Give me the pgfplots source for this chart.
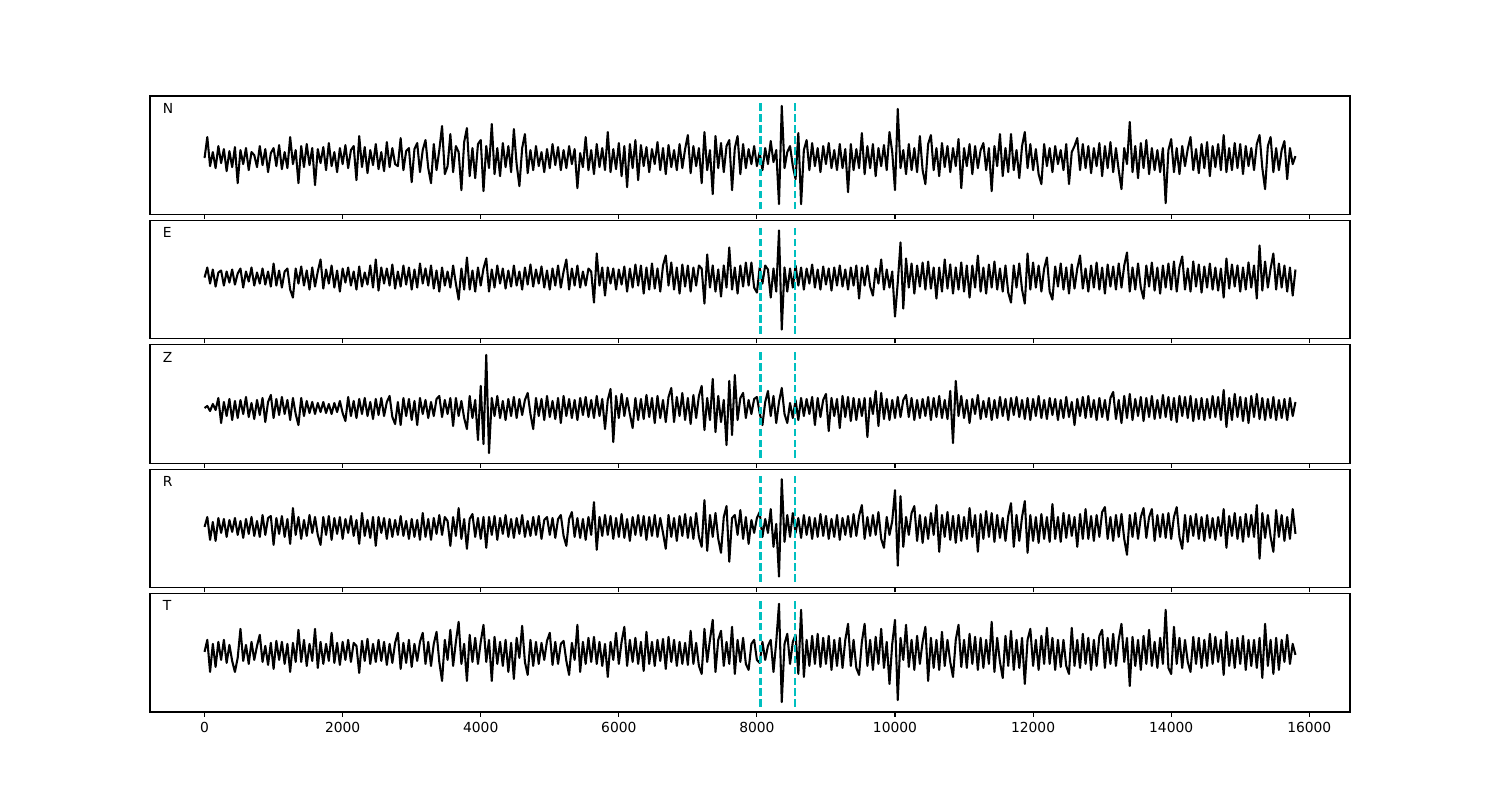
\documentclass[border=0pt]{standalone}
\usepackage{pgfplots}
\pgfplotsset{compat=1.18}
\usepackage{pgfplotstable}
\usepackage{fontspec}
\setmainfont{DejaVu Sans}
\definecolor{mplc}{rgb}{0,0.75,0.75}
\pgfplotsset{
 seis/.style={
  width=12in, height=1.182in, scale only axis,
  anchor=south west,
  xmin=-790, xmax=16590,
  xtick={0,2000,...,16000},
  xtick pos=left, tick align=outside,
  ytick=\empty,
  major tick length=3.5pt,
  every tick/.style={black, line width=0.8pt},
  axis line style={line width=0.8pt},
  tick label style={font=\fontsize{10}{12}\selectfont},
  /pgf/number format/assume math mode=true,
  /pgf/number format/1000 sep={},
  scaled x ticks=false,
 },
 trace/.style={black, line width=1.5pt, line join=round},
 vl/.style={mplc, line width=2pt, dash pattern=on 5.5pt off 2.4pt},
}
\tikzset{lab/.style={anchor=base west, inner sep=0pt, font=\fontsize{10}{12}\selectfont}}
% samples every 40 time units; offsets from the trace baseline
% N component
\pgfplotstableread[row sep=\\]{y\\
0\\ 21\\ -8\\ 6\\ -10\\ 12\\ -5\\ 9\\ -13\\ 7\\
-9\\ 11\\ -25\\ 8\\ -6\\ 10\\ -12\\ 6\\ 3\\ -9\\
12\\ -7\\ 9\\ -14\\ 5\\ 10\\ -8\\ 13\\ -11\\ 6\\
-10\\ 21\\ -6\\ 8\\ -25\\ 12\\ -9\\ 14\\ -7\\ 10\\
-27\\ 9\\ -5\\ 11\\ -12\\ 15\\ -8\\ 6\\ -14\\ 10\\
-6\\ 13\\ -10\\ 8\\ 12\\ -22\\ 22\\ -9\\ 11\\ -15\\
8\\ -7\\ 14\\ -11\\ 6\\ -13\\ 16\\ -9\\ 10\\ -6\\
-8\\ 20\\ -12\\ 7\\ 10\\ -24\\ 9\\ 15\\ -14\\ 8\\
18\\ -10\\ -25\\ 14\\ -12\\ 8\\ 32\\ -16\\ -8\\ 24\\
-14\\ 12\\ 6\\ -32\\ 16\\ 30\\ -18\\ 10\\ -20\\ 14\\
18\\ -33\\ 12\\ -10\\ 34\\ -16\\ 10\\ -18\\ 15\\ -9\\
12\\ -14\\ 29\\ -6\\ -28\\ 10\\ 24\\ -15\\ 8\\ -12\\
12\\ -8\\ 6\\ -14\\ 9\\ -10\\ 14\\ -7\\ 11\\ -12\\
8\\ -10\\ 12\\ -6\\ 9\\ -30\\ 5\\ -9\\ 21\\ -12\\
8\\ -16\\ 14\\ -9\\ 10\\ -12\\ 26\\ -14\\ 9\\ -11\\
15\\ -18\\ 12\\ -29\\ 14\\ -10\\ 18\\ -22\\ 13\\ -8\\
11\\ -14\\ 9\\ -6\\ 16\\ -12\\ 10\\ -16\\ 13\\ -9\\
8\\ -12\\ 14\\ -10\\ 9\\ 23\\ -15\\ 12\\ -8\\ 10\\
-25\\ 26\\ -12\\ 8\\ -36\\ 22\\ -10\\ 15\\ -14\\ 12\\
18\\ -32\\ 10\\ 22\\ -16\\ 14\\ -10\\ 9\\ -6\\ 12\\
-8\\ 6\\ -12\\ 10\\ -6\\ 17\\ -4\\ 8\\ -46\\ 52\\
-10\\ 6\\ 12\\ -8\\ -21\\ 25\\ -46\\ 8\\ 18\\ -12\\
15\\ -8\\ 10\\ -14\\ 12\\ -6\\ 15\\ -10\\ 8\\ -12\\
14\\ -10\\ 9\\ -34\\ 14\\ -12\\ 9\\ -10\\ 25\\ -16\\
12\\ -10\\ 14\\ -18\\ 10\\ -8\\ 13\\ -12\\ 26\\ 6\\
-32\\ 49\\ -10\\ 8\\ -16\\ 14\\ -12\\ 10\\ -14\\ 22\\
-12\\ -26\\ 14\\ 23\\ -12\\ 10\\ -18\\ 15\\ -9\\ 12\\
-14\\ 10\\ -8\\ 19\\ -30\\ 10\\ -8\\ 14\\ -16\\ 12\\
-10\\ 8\\ 15\\ -12\\ 10\\ -33\\ 12\\ -8\\ 24\\ -18\\
10\\ -14\\ 24\\ -12\\ 8\\ -20\\ 12\\ 26\\ -10\\ 14\\
-12\\ 9\\ -16\\ -26\\ 14\\ -8\\ 10\\ -14\\ 12\\ -6\\
8\\ -12\\ 14\\ -26\\ 6\\ 12\\ 20\\ -12\\ 14\\ -10\\
12\\ -15\\ 10\\ -8\\ 15\\ -18\\ 12\\ -10\\ 16\\ -14\\
10\\ -12\\ -31\\ 10\\ -6\\ 36\\ -14\\ 12\\ -20\\ 15\\
-10\\ 18\\ -16\\ 10\\ -12\\ 8\\ -14\\ 10\\ -45\\ 8\\
19\\ -14\\ 10\\ -16\\ 12\\ -8\\ 9\\ 21\\ -12\\ 9\\
-15\\ 14\\ -10\\ 16\\ -18\\ 12\\ -9\\ 14\\ -12\\ 23\\
-14\\ 10\\ -12\\ 15\\ -10\\ 14\\ -16\\ 12\\ -8\\ 10\\
-12\\ 14\\ 23\\ -10\\ -31\\ 12\\ 21\\ -14\\ 10\\ -12\\
8\\ 17\\ -21\\ 10\\ -6\\ 2\\
}\tN
% E component
\pgfplotstableread[row sep=\\]{y\\
0\\ 10\\ -6\\ 8\\ -9\\ 5\\ 7\\ -8\\ 6\\ -5\\
8\\ -7\\ 4\\ 9\\ -10\\ 6\\ -4\\ 10\\ -8\\ 5\\
-6\\ 9\\ -7\\ 6\\ -9\\ 14\\ -8\\ 7\\ -10\\ 6\\
9\\ -12\\ -20\\ 9\\ -6\\ 11\\ -8\\ 7\\ -12\\ 10\\
-9\\ 6\\ 18\\ -11\\ 8\\ -6\\ 12\\ -10\\ 7\\ -14\\
9\\ -5\\ 10\\ -8\\ 6\\ -12\\ 11\\ -9\\ 5\\ -7\\
12\\ -10\\ 18\\ -13\\ 10\\ -6\\ 9\\ -8\\ 13\\ -11\\
6\\ -9\\ 12\\ -7\\ 10\\ -12\\ 8\\ -10\\ 14\\ -6\\
9\\ -8\\ 12\\ -11\\ 7\\ -14\\ 10\\ -8\\ 6\\ -10\\
12\\ -6\\ -22\\ 9\\ -12\\ 20\\ -12\\ 7\\ -14\\ 10\\
-8\\ 9\\ 19\\ -14\\ 8\\ -10\\ 12\\ -6\\ 9\\ -11\\
7\\ -9\\ 12\\ -8\\ 6\\ -12\\ 10\\ -7\\ 13\\ -9\\
8\\ -6\\ 11\\ -10\\ 7\\ -12\\ 9\\ -8\\ 12\\ -10\\
6\\ 18\\ -12\\ 9\\ -8\\ 12\\ -10\\ 6\\ -8\\ 9\\
6\\ -25\\ 24\\ -8\\ 10\\ -18\\ 10\\ -6\\ 9\\ -12\\
8\\ -7\\ 11\\ -14\\ 9\\ -10\\ 13\\ -8\\ 12\\ -16\\
10\\ -12\\ 14\\ -11\\ 9\\ -14\\ 12\\ 22\\ -8\\ 15\\
-12\\ 10\\ -16\\ 13\\ -9\\ 12\\ -14\\ 10\\ -8\\ 12\\
9\\ -26\\ 23\\ -10\\ 12\\ -14\\ 8\\ -19\\ 12\\ -10\\
30\\ -12\\ 10\\ -16\\ 12\\ -9\\ 15\\ -8\\ 15\\ -10\\
-15\\ 10\\ -6\\ 12\\ 8\\ -20\\ 9\\ -14\\ 47\\ -52\\
10\\ -14\\ 9\\ -10\\ 12\\ -8\\ 10\\ -12\\ 9\\ -6\\
13\\ -10\\ 8\\ -12\\ 11\\ -7\\ 9\\ -13\\ 10\\ -8\\
12\\ -9\\ 8\\ -12\\ 10\\ -8\\ 12\\ -21\\ 10\\ -8\\
12\\ -9\\ -18\\ 9\\ -6\\ 18\\ -12\\ 8\\ -10\\ 6\\
-39\\ -5\\ 35\\ -31\\ 19\\ -10\\ 14\\ -16\\ 12\\ -9\\
15\\ -12\\ 16\\ -11\\ 10\\ -21\\ 10\\ -14\\ 18\\ -11\\
13\\ -16\\ 10\\ -12\\ 15\\ -14\\ 12\\ -20\\ 12\\ -10\\
22\\ -14\\ 10\\ -16\\ 13\\ -10\\ 16\\ -12\\ 9\\ -14\\
12\\ -15\\ -25\\ 12\\ -10\\ 14\\ -12\\ -26\\ 24\\ -12\\
15\\ -10\\ 12\\ -14\\ 9\\ 20\\ -14\\ -22\\ 11\\ -9\\
14\\ -12\\ 10\\ -16\\ 13\\ -11\\ 9\\ 22\\ -11\\ 9\\
-14\\ 12\\ -10\\ 15\\ -12\\ 10\\ -16\\ 13\\ -9\\ 11\\
-12\\ 14\\ -10\\ 12\\ 25\\ -14\\ 10\\ -12\\ 14\\ -10\\
-21\\ 12\\ -9\\ 15\\ -13\\ 10\\ -16\\ 12\\ -10\\ 14\\
-12\\ 16\\ -14\\ 10\\ 21\\ -12\\ 9\\ -14\\ 16\\ -9\\
13\\ -15\\ 11\\ -10\\ 14\\ -12\\ 10\\ -13\\ 9\\ -20\\
19\\ -11\\ 13\\ -9\\ 12\\ -14\\ 10\\ -12\\ 15\\ -10\\
12\\ -21\\ 32\\ -13\\ 16\\ -10\\ 9\\ 24\\ -12\\ 14\\
-10\\ 12\\ -14\\ 10\\ -18\\ 8\\
}\tE
% Z component
\pgfplotstableread[row sep=\\]{y\\
0\\ 2\\ -3\\ 4\\ -2\\ 10\\ -15\\ 6\\ -8\\ 9\\
-12\\ 7\\ -10\\ 8\\ -6\\ 11\\ -9\\ 5\\ -11\\ 8\\
-7\\ 10\\ -14\\ 6\\ 13\\ -10\\ 9\\ -7\\ 11\\ -6\\
8\\ -12\\ 10\\ -6\\ -17\\ 10\\ -8\\ 7\\ -5\\ 6\\
-6\\ 5\\ -4\\ 6\\ -5\\ 4\\ -6\\ 5\\ -4\\ 7\\
-5\\ -13\\ 11\\ -8\\ 7\\ -10\\ 9\\ -6\\ 10\\ -8\\
6\\ -11\\ 9\\ -7\\ 10\\ -8\\ 6\\ 12\\ -9\\ -16\\
6\\ -17\\ 10\\ -8\\ 9\\ -12\\ 7\\ -17\\ 10\\ -6\\
8\\ -10\\ 6\\ -8\\ 9\\ 12\\ -9\\ 8\\ -6\\ 10\\
-18\\ 10\\ -8\\ 7\\ -10\\ -21\\ 12\\ -10\\ 8\\ -32\\
22\\ -36\\ 53\\ -45\\ 10\\ -8\\ 12\\ -10\\ 7\\ -12\\
9\\ -8\\ 11\\ -10\\ 9\\ -7\\ 8\\ 15\\ -6\\ -21\\
10\\ -8\\ 9\\ -12\\ 12\\ -9\\ 7\\ -11\\ 10\\ -15\\
12\\ -8\\ 9\\ -10\\ 8\\ -12\\ 10\\ -7\\ 11\\ -9\\
8\\ -10\\ 12\\ -8\\ 9\\ -21\\ 8\\ 19\\ -34\\ 12\\
-10\\ 14\\ -8\\ 10\\ -6\\ -20\\ 10\\ -12\\ 9\\ -11\\
13\\ -9\\ 10\\ -15\\ 12\\ -10\\ 8\\ -14\\ 11\\ 20\\
-14\\ 11\\ -8\\ 15\\ -12\\ 10\\ -16\\ 13\\ -10\\ 12\\
22\\ -22\\ 10\\ -12\\ 29\\ -24\\ 12\\ -14\\ 8\\ -37\\
27\\ -27\\ 33\\ -12\\ 10\\ 15\\ -10\\ 8\\ -6\\ 9\\
11\\ -5\\ -17\\ 6\\ 17\\ -8\\ 12\\ -15\\ 6\\ 20\\
-6\\ -15\\ 5\\ -10\\ 8\\ -12\\ 10\\ -8\\ 9\\ -6\\
11\\ -17\\ 10\\ -9\\ 8\\ 14\\ -23\\ 10\\ -8\\ 9\\
-20\\ 12\\ -9\\ 11\\ -13\\ 10\\ -12\\ 9\\ -8\\ 10\\
-29\\ 10\\ -6\\ 17\\ -18\\ 15\\ -11\\ 9\\ -12\\ 8\\
-10\\ 11\\ -9\\ 8\\ 13\\ -9\\ 10\\ -12\\ 8\\ -10\\
9\\ -8\\ 11\\ -12\\ 10\\ -9\\ 12\\ -10\\ 8\\ -11\\
17\\ -35\\ 27\\ -8\\ 12\\ -10\\ 8\\ -15\\ 9\\ -6\\
13\\ -11\\ 7\\ -9\\ 10\\ -12\\ 8\\ -10\\ 11\\ -8\\
9\\ -12\\ 10\\ -7\\ 11\\ -9\\ 8\\ -11\\ 10\\ -12\\
9\\ -8\\ 12\\ -10\\ 8\\ -11\\ 10\\ -7\\ 9\\ -12\\
8\\ -10\\ 11\\ -9\\ 6\\ -17\\ 9\\ -8\\ 11\\ -10\\
12\\ -9\\ 8\\ -12\\ 10\\ -9\\ 8\\ -12\\ 10\\ 16\\
-11\\ 8\\ -15\\ 12\\ -10\\ 14\\ -12\\ 9\\ -8\\ 11\\
-13\\ 10\\ -9\\ 12\\ -11\\ 8\\ -10\\ 13\\ -9\\ 11\\
-12\\ 10\\ -14\\ 12\\ -8\\ 11\\ -10\\ 12\\ -13\\ 9\\
-11\\ 10\\ -12\\ 9\\ -10\\ 12\\ -9\\ 11\\ -12\\ 18\\
-19\\ 10\\ -12\\ 14\\ -9\\ 11\\ -13\\ 10\\ -15\\ 12\\
-9\\ 14\\ -11\\ 10\\ -12\\ 9\\ -10\\ 11\\ -12\\ 8\\
-10\\ 9\\ -12\\ 10\\ -8\\ 6\\
}\tZ
% R component
\pgfplotstableread[row sep=\\]{y\\
0\\ 10\\ -13\\ 5\\ -14\\ 9\\ -6\\ 8\\ -10\\ 7\\
-5\\ 9\\ -8\\ 6\\ -11\\ 8\\ -7\\ 10\\ -9\\ 6\\
-10\\ 12\\ -8\\ 9\\ 11\\ -18\\ 9\\ -7\\ 11\\ -10\\
8\\ -17\\ 19\\ -8\\ 10\\ -12\\ 7\\ -9\\ 12\\ -6\\
10\\ -8\\ -18\\ 10\\ -8\\ 11\\ -13\\ 9\\ -7\\ 10\\
-12\\ 8\\ -6\\ 11\\ -9\\ 7\\ -17\\ 14\\ -9\\ 7\\
-11\\ 10\\ -19\\ 10\\ -6\\ 9\\ -12\\ 8\\ -10\\ 7\\
-8\\ 11\\ -9\\ 6\\ -12\\ 8\\ -10\\ 7\\ -13\\ 14\\
-10\\ 8\\ -13\\ 9\\ -7\\ 12\\ -8\\ 10\\ 6\\ -19\\
10\\ -9\\ 19\\ -12\\ 8\\ -22\\ 8\\ 13\\ -10\\ 9\\
-12\\ 10\\ -21\\ 10\\ -8\\ 11\\ -13\\ 9\\ -7\\ 12\\
-10\\ 8\\ -11\\ 9\\ -7\\ 12\\ -10\\ 6\\ -9\\ 10\\
-8\\ 11\\ -12\\ 7\\ 10\\ -8\\ 9\\ -11\\ 8\\ 12\\
-9\\ -19\\ 8\\ 15\\ -10\\ 9\\ -11\\ 8\\ -13\\ 10\\
-8\\ 25\\ -23\\ 10\\ -9\\ 12\\ -8\\ 11\\ -12\\ 9\\
-10\\ 13\\ -11\\ 8\\ -14\\ 10\\ -8\\ 12\\ -9\\ 11\\
-13\\ 10\\ -9\\ 12\\ -10\\ 9\\ -6\\ -22\\ 12\\ -10\\
9\\ -14\\ 11\\ -9\\ 13\\ -11\\ 10\\ -12\\ 14\\ -10\\
-20\\ 27\\ -24\\ 12\\ -10\\ 14\\ -12\\ -26\\ 10\\ 21\\
-35\\ 9\\ 12\\ -8\\ 17\\ -12\\ 10\\ -17\\ 7\\ -6\\
9\\ 15\\ -10\\ 8\\ -6\\ 18\\ -20\\ 3\\ -50\\ 48\\
-15\\ 12\\ -10\\ 14\\ -6\\ 9\\ -11\\ 12\\ -8\\ 10\\
-12\\ 9\\ -10\\ 13\\ -9\\ 11\\ -12\\ 8\\ -10\\ 12\\
-13\\ 9\\ -8\\ 11\\ -10\\ 13\\ -9\\ 11\\ 22\\ -12\\
10\\ -9\\ 12\\ -8\\ 15\\ -12\\ -21\\ 10\\ -8\\ 6\\
37\\ -39\\ 31\\ -20\\ 10\\ -8\\ 14\\ 21\\ -14\\ 12\\
-16\\ 10\\ -12\\ 14\\ -8\\ 22\\ -25\\ 12\\ -10\\ 15\\
-13\\ 11\\ -16\\ 12\\ -14\\ 10\\ -12\\ 19\\ -10\\ 12\\
-25\\ 13\\ -12\\ 16\\ -10\\ 14\\ -15\\ 12\\ -11\\ 9\\
-14\\ 11\\ 24\\ -20\\ 12\\ -14\\ 10\\ 26\\ -26\\ 12\\
-14\\ 10\\ -16\\ 13\\ -12\\ 10\\ -15\\ 23\\ -12\\ 10\\
-15\\ 14\\ -11\\ 12\\ -9\\ 10\\ -20\\ 13\\ -12\\ 18\\
-12\\ 11\\ -14\\ 12\\ -10\\ 15\\ 20\\ -12\\ 10\\ -14\\
12\\ -10\\ 13\\ -12\\ -28\\ 12\\ -10\\ 14\\ -12\\ 10\\
19\\ -11\\ 10\\ 18\\ -14\\ 12\\ -10\\ 13\\ -11\\ 14\\
-12\\ 10\\ 20\\ -10\\ -22\\ 12\\ -15\\ 11\\ -9\\ 13\\
-12\\ 10\\ -14\\ 12\\ -11\\ 9\\ -13\\ 10\\ -9\\ 18\\
-21\\ 11\\ -9\\ 14\\ -12\\ 10\\ -15\\ 13\\ -10\\ 12\\
-10\\ 22\\ -32\\ 14\\ -11\\ 12\\ -10\\ -25\\ 17\\ -10\\
12\\ -14\\ 10\\ -12\\ 18\\ -7\\
}\tR
% T component
\pgfplotstableread[row sep=\\]{y\\
0\\ 12\\ -20\\ 8\\ -15\\ 10\\ -8\\ 12\\ -11\\ 7\\
-9\\ -20\\ -6\\ 23\\ -9\\ 7\\ -12\\ 10\\ -8\\ 6\\
17\\ -10\\ 6\\ -13\\ 9\\ -17\\ 11\\ -8\\ 10\\ -12\\
8\\ -20\\ 9\\ -10\\ 22\\ -10\\ 12\\ -14\\ 8\\ -9\\
23\\ -16\\ 10\\ -12\\ 8\\ -9\\ 19\\ -11\\ 9\\ -13\\
10\\ -8\\ 12\\ -10\\ 9\\ 6\\ -21\\ 11\\ -9\\ 13\\
-12\\ 8\\ -10\\ 12\\ -9\\ 10\\ -13\\ 8\\ -11\\ 9\\
19\\ -17\\ 9\\ -11\\ 12\\ -15\\ 8\\ -9\\ 10\\ 19\\
-12\\ 10\\ -14\\ 8\\ 20\\ -10\\ -29\\ 12\\ -8\\ 22\\
-14\\ 10\\ 30\\ -12\\ 8\\ -29\\ 17\\ -10\\ 14\\ -12\\
10\\ 27\\ -10\\ 12\\ -29\\ 15\\ -12\\ 10\\ -14\\ 12\\
-20\\ 9\\ -27\\ 14\\ -6\\ 26\\ -10\\ -23\\ 12\\ -14\\
10\\ -12\\ 9\\ -8\\ 11\\ 19\\ -13\\ 10\\ -12\\ 8\\
11\\ -9\\ -23\\ 9\\ -8\\ 27\\ -20\\ 10\\ -12\\ 14\\
-10\\ 15\\ -12\\ 10\\ -14\\ 8\\ -25\\ 10\\ -8\\ 19\\
-12\\ 10\\ 25\\ -14\\ 12\\ -10\\ 14\\ -12\\ 10\\ -19\\
20\\ -12\\ 10\\ -14\\ 12\\ -9\\ 13\\ -17\\ 15\\ -10\\
12\\ -14\\ 10\\ -12\\ 9\\ -13\\ 21\\ -12\\ 9\\ -14\\
-22\\ 23\\ -10\\ 12\\ 32\\ -20\\ 12\\ 21\\ -14\\ 10\\
-12\\ 25\\ -22\\ 12\\ -10\\ 14\\ -12\\ -18\\ 8\\ 12\\
-8\\ -11\\ 10\\ -8\\ 6\\ 12\\ -20\\ 10\\ 48\\ -50\\
8\\ 18\\ -12\\ 10\\ 17\\ -22\\ 42\\ -25\\ 12\\ -14\\
16\\ -12\\ 18\\ -15\\ 14\\ -12\\ 16\\ -18\\ 12\\ -14\\
14\\ -16\\ 12\\ 28\\ -14\\ 12\\ -16\\ -23\\ 10\\ 28\\
-14\\ 12\\ -18\\ 15\\ -12\\ 23\\ -16\\ 10\\ -32\\ 8\\
32\\ -48\\ 14\\ -8\\ 27\\ -15\\ 12\\ -18\\ 16\\ -12\\
10\\ 25\\ -29\\ 14\\ -16\\ 12\\ -18\\ 20\\ -14\\ 12\\
-10\\ -25\\ 12\\ 27\\ -15\\ 12\\ -16\\ 18\\ -12\\ 15\\
-18\\ 14\\ -16\\ 12\\ -12\\ 30\\ -20\\ 14\\ -10\\ -26\\
16\\ -14\\ 21\\ -18\\ 12\\ -16\\ 14\\ -32\\ 12\\ 23\\
-14\\ 12\\ -18\\ 16\\ -12\\ 24\\ -12\\ 14\\ -18\\ 12\\
-15\\ 12\\ -14\\ -22\\ 24\\ -14\\ 12\\ -16\\ 18\\ -12\\
14\\ -18\\ 12\\ -14\\ 16\\ 22\\ -16\\ 14\\ -12\\ 18\\
-14\\ 12\\ 28\\ -10\\ 14\\ -34\\ 15\\ -14\\ 12\\ -18\\
16\\ -12\\ 22\\ -14\\ 10\\ -16\\ 14\\ -12\\ 42\\ -16\\
-22\\ 25\\ -12\\ 14\\ -16\\ 12\\ -10\\ -20\\ 15\\ -12\\
14\\ -16\\ 12\\ -14\\ 18\\ -12\\ 15\\ -10\\ 12\\ -23\\
20\\ -14\\ 12\\ -16\\ 14\\ -12\\ 16\\ -18\\ 12\\ -14\\
12\\ -16\\ 14\\ -26\\ 28\\ -14\\ 12\\ -22\\ 14\\ -18\\
12\\ -10\\ 17\\ -12\\ 8\\ -3\\
}\tT
\begin{document}
\begin{tikzpicture}
\path (0,0) rectangle (15in,8in);
% N
\begin{axis}[seis, at={(1.5in,5.858in)}, ymin=-56, ymax=62, xticklabels={}]
\addplot[trace] table[x expr=\coordindex*40, y index=0] {\tN};
\addplot[vl] coordinates {(8050,-51) (8050,57)};
\addplot[vl] coordinates {(8550,-51) (8550,57)};
\node[lab] at (rel axis cs:0.0105,0.855) {N};
\end{axis}
% E
\begin{axis}[seis, at={(1.5in,4.6135in)}, ymin=-61, ymax=57, xticklabels={}]
\addplot[trace] table[x expr=\coordindex*40, y index=0] {\tE};
\addplot[vl] coordinates {(8050,-56) (8050,51)};
\addplot[vl] coordinates {(8550,-56) (8550,51)};
\node[lab] at (rel axis cs:0.0105,0.855) {E};
\end{axis}
% Z
\begin{axis}[seis, at={(1.5in,3.369in)}, ymin=-55, ymax=63, xticklabels={}]
\addplot[trace] table[x expr=\coordindex*40, y index=0] {\tZ};
\addplot[vl] coordinates {(8050,-50) (8050,58)};
\addplot[vl] coordinates {(8550,-50) (8550,58)};
\node[lab] at (rel axis cs:0.0105,0.855) {Z};
\end{axis}
% R
\begin{axis}[seis, at={(1.5in,2.1245in)}, ymin=-61, ymax=58, xticklabels={}]
\addplot[trace] table[x expr=\coordindex*40, y index=0] {\tR};
\addplot[vl] coordinates {(8050,-55) (8050,52)};
\addplot[vl] coordinates {(8550,-55) (8550,52)};
\node[lab] at (rel axis cs:0.0105,0.855) {R};
\end{axis}
% T
\begin{axis}[seis, at={(1.5in,0.88in)}, ymin=-60, ymax=58]
\addplot[trace] table[x expr=\coordindex*40, y index=0] {\tT};
\addplot[vl] coordinates {(8050,-55) (8050,53)};
\addplot[vl] coordinates {(8550,-55) (8550,53)};
\node[lab] at (rel axis cs:0.0105,0.855) {T};
\end{axis}
\end{tikzpicture}
\end{document}
